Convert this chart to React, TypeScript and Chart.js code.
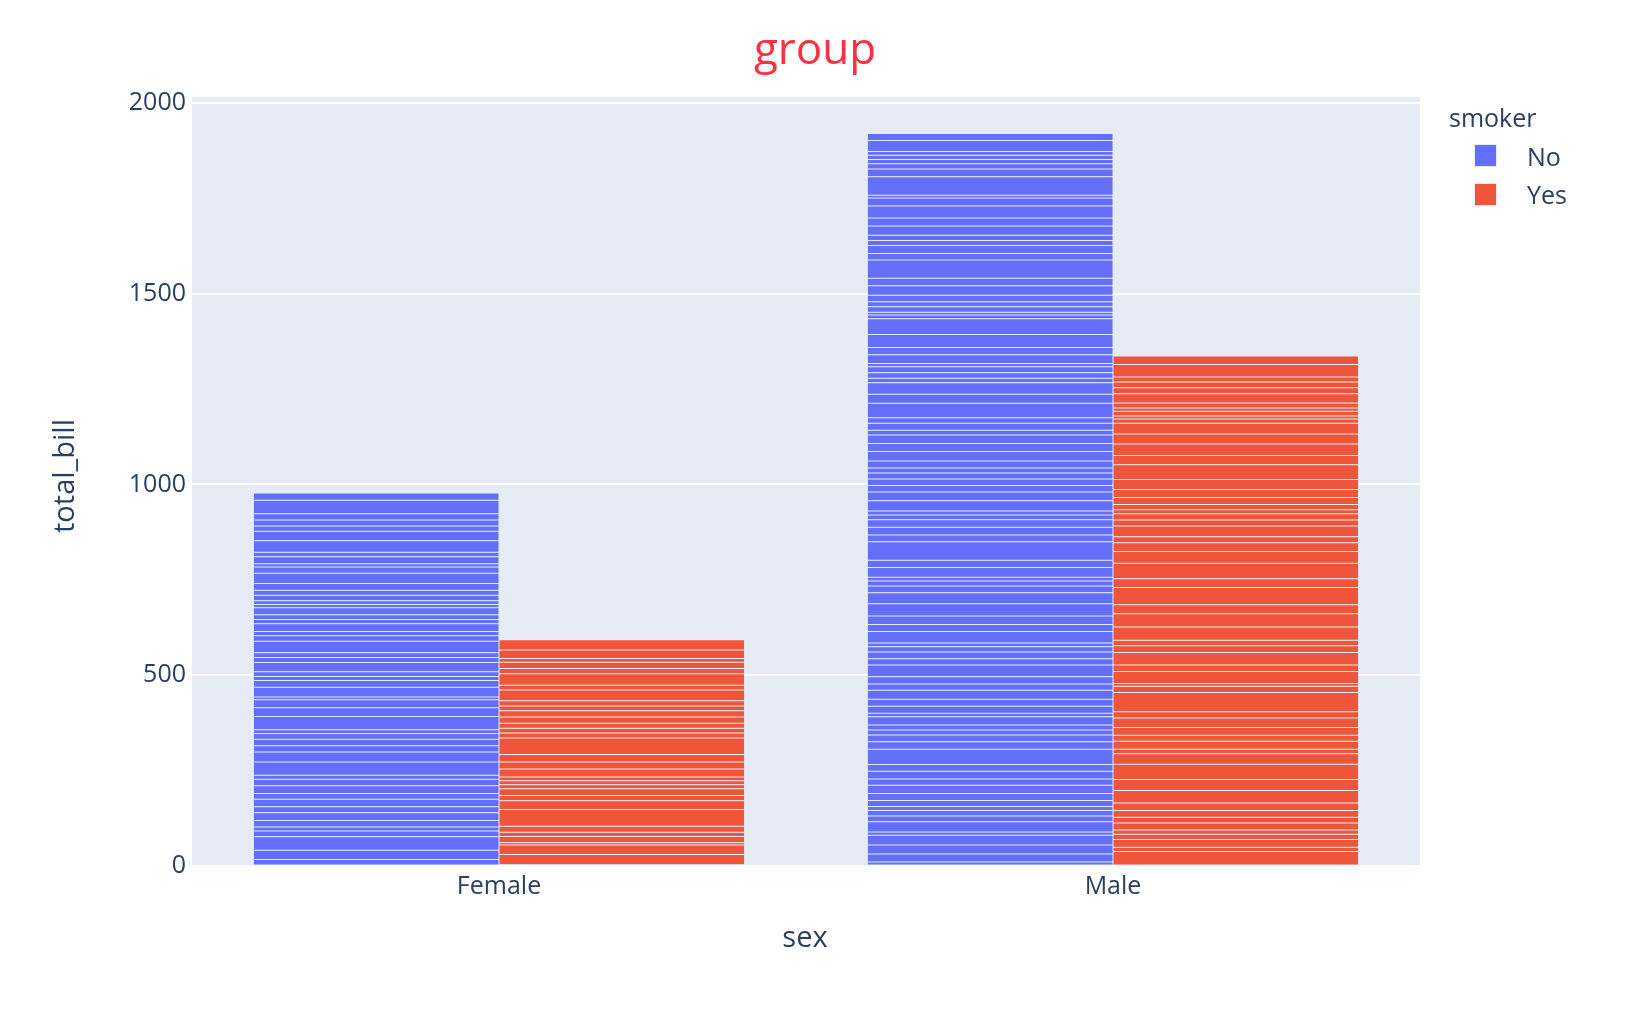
import { useEffect, useRef } from "react";
import { Chart, registerables } from "chart.js";

Chart.register(...registerables);

// ---- Data (tips dataset, total_bill per row, in row order) ----
const categories = ["Female", "Male"];
const smokerLevels = ["No", "Yes"];

const femaleNoBills = [
  16.99, 24.59, 35.26, 14.83, 10.33, 16.97, 20.29, 15.77, 19.65, 15.06, 20.69, 16.93, 10.29, 34.81,
  26.41, 16.45, 17.07, 14.73, 10.07, 34.83, 22.75, 20.92, 7.25, 25.71, 17.31, 10.65, 12.43, 24.08,
  13.42, 12.48, 29.8, 14.52, 11.38, 20.27, 11.17, 12.26, 18.26, 8.51, 10.33, 14.15, 13.16, 17.47,
  27.05, 16.43, 8.35, 18.64, 11.87, 29.85, 25.0, 13.39, 16.21, 15.98, 35.83, 18.78,
];

const femaleYesBills = [
  3.07, 26.86, 25.28, 5.75, 16.32, 11.35, 15.38, 44.3, 22.42, 14.31, 17.51, 10.59, 10.63, 9.6, 20.9,
  18.15, 19.81, 43.11, 13.0, 12.74, 13.0, 16.4, 16.47, 12.76, 13.27, 28.17, 12.9, 30.14, 13.42,
  16.27, 10.09, 22.12, 27.18,
];

const maleNoBills = [
  10.34, 21.01, 23.68, 25.29, 8.77, 26.88, 15.04, 14.78, 10.27, 15.42, 18.43, 21.58, 16.29, 20.65,
  17.92, 39.42, 19.82, 17.81, 13.37, 12.69, 21.7, 9.55, 18.35, 17.78, 24.06, 16.31, 18.69, 31.27,
  16.04, 17.46, 13.94, 9.68, 30.4, 18.29, 22.23, 32.4, 28.55, 18.04, 12.54, 9.94, 25.56, 19.49,
  48.27, 17.59, 20.08, 20.23, 12.02, 10.51, 27.2, 22.76, 17.29, 16.66, 15.98, 13.03, 18.28, 24.71,
  21.16, 22.49, 12.46, 18.24, 14.0, 38.07, 23.95, 29.93, 11.69, 14.26, 15.95, 8.52, 22.82, 19.08,
  34.3, 41.19, 9.78, 7.51, 14.07, 13.13, 17.26, 24.55, 19.77, 48.17, 16.49, 21.5, 12.66, 13.81,
  24.52, 20.76, 31.71, 20.69, 7.56, 48.33, 20.45, 13.28, 11.61, 10.77, 10.07, 29.03, 17.82,
];

const maleYesBills = [
  38.01, 11.24, 20.29, 13.81, 11.02, 18.29, 15.01, 17.92, 19.44, 32.68, 28.97, 40.17, 27.28, 12.03,
  21.01, 15.36, 20.49, 25.21, 16.0, 50.81, 15.81, 7.25, 31.85, 16.82, 32.9, 17.89, 14.48, 34.63,
  34.65, 23.33, 45.35, 23.17, 40.55, 30.46, 23.1, 15.69, 28.44, 15.48, 16.58, 10.34, 13.51, 18.71,
  20.53, 26.59, 38.73, 24.27, 30.06, 25.89, 28.15, 11.59, 7.74, 12.16, 8.58, 13.42, 24.01, 15.69,
  15.53, 12.6, 32.83, 22.67,
];

const yTickValues = [0, 500, 1000, 1500, 2000];
const yTickLabels = ["0", "500", "1000", "1500", "2000"];
const yAxisMax = 2015.7;

const titleText = "group";
const xTitle = "sex";
const yTitle = "total_bill";
const legendTitle = "smoker";

// ---- Styles ----
const COLORS: Record<string, string> = { No: "#636EFA", Yes: "#EF553B" };
const TEXT = "#2A3F5F";
const PLOT_BG = "#E5ECF6";
const FONT = '"Open Sans", "Liberation Sans", sans-serif';

function buildDatasets(female: number[], male: number[], stack: string) {
  const n = Math.max(female.length, male.length);
  const out: any[] = [];
  for (let i = 0; i < n; i++) {
    out.push({
      label: stack,
      stack,
      data: [female[i] ?? null, male[i] ?? null],
      backgroundColor: COLORS[stack],
      borderColor: PLOT_BG,
      borderWidth: 0.5,
      borderSkipped: false,
      categoryPercentage: 0.8,
      barPercentage: 1.0,
    });
  }
  return out;
}

const overlayPlugin = {
  id: "overlay",
  beforeDraw(chart: any) {
    const { ctx, chartArea: a } = chart;
    ctx.save();
    ctx.fillStyle = PLOT_BG;
    ctx.fillRect(a.left, a.top, a.right - a.left, a.bottom - a.top);
    ctx.restore();
  },
  afterDraw(chart: any) {
    const { ctx } = chart;
    ctx.save();
    // Title
    ctx.fillStyle = "#FF3041";
    ctx.font = `44px ${FONT}`;
    ctx.textAlign = "center";
    ctx.textBaseline = "alphabetic";
    ctx.fillText(titleText, 815, 64);

    // X axis title
    ctx.fillStyle = TEXT;
    ctx.font = `29px ${FONT}`;
    ctx.fillText(xTitle, 805, 947);

    // Y axis title
    ctx.save();
    ctx.translate(66, 476);
    ctx.rotate(-Math.PI / 2);
    ctx.textBaseline = "middle";
    ctx.fillText(yTitle, 0, 0);
    ctx.restore();

    // Legend
    ctx.textAlign = "left";
    ctx.textBaseline = "alphabetic";
    ctx.font = `25px ${FONT}`;
    ctx.fillStyle = TEXT;
    ctx.fillText(legendTitle, 1449, 127);
    const rows = [
      { y: 144, base: 166 },
      { y: 183, base: 204 },
    ];
    smokerLevels.forEach((lvl, i) => {
      ctx.fillStyle = COLORS[lvl];
      ctx.fillRect(1474, rows[i].y, 23, 23);
      ctx.strokeStyle = PLOT_BG;
      ctx.lineWidth = 1;
      ctx.strokeRect(1474.5, rows[i].y + 0.5, 22, 22);
      ctx.fillStyle = TEXT;
      ctx.fillText(lvl, 1527, rows[i].base);
    });
    ctx.restore();
  },
};

export default function App() {
  const canvasRef = useRef<HTMLCanvasElement | null>(null);

  useEffect(() => {
    document.body.style.margin = "0";
    document.body.style.overflow = "hidden";
    const canvas = canvasRef.current;
    if (!canvas) return;

    const datasets = [
      ...buildDatasets(femaleNoBills, maleNoBills, "No"),
      ...buildDatasets(femaleYesBills, maleYesBills, "Yes"),
    ];

    const chart = new Chart(canvas, {
      type: "bar",
      data: { labels: categories, datasets },
      options: {
        responsive: false,
        devicePixelRatio: 1,
        animation: false,
        layout: { padding: { top: 97, right: 226, left: 0, bottom: 0 } },
        plugins: {
          legend: { display: false },
          title: { display: false },
          tooltip: { enabled: false },
        },
        scales: {
          x: {
            stacked: true,
            grid: { display: false, drawTicks: false },
            border: { display: false },
            ticks: {
              color: TEXT,
              font: { family: FONT, size: 25 },
              padding: 6,
              maxRotation: 0,
            },
            afterFit(scale: any) {
              scale.height = 144;
            },
          },
          y: {
            stacked: true,
            min: 0,
            max: yAxisMax,
            grid: { color: "#FFFFFF", lineWidth: 2, drawTicks: false },
            border: { display: false },
            ticks: {
              color: TEXT,
              font: { family: FONT, size: 25 },
              padding: 6,
              callback: (value: any) => {
                const idx = yTickValues.indexOf(Number(value));
                return idx >= 0 ? yTickLabels[idx] : "";
              },
            },
            afterBuildTicks(scale: any) {
              scale.ticks = yTickValues.map((v) => ({ value: v }));
            },
            afterFit(scale: any) {
              scale.width = 192;
            },
          },
        },
      },
      plugins: [overlayPlugin],
    });

    return () => chart.destroy();
  }, []);

  return (
    <div style={{ width: 1646, height: 1010, background: "#FFFFFF" }}>
      <canvas ref={canvasRef} width={1646} height={1010} />
    </div>
  );
}
